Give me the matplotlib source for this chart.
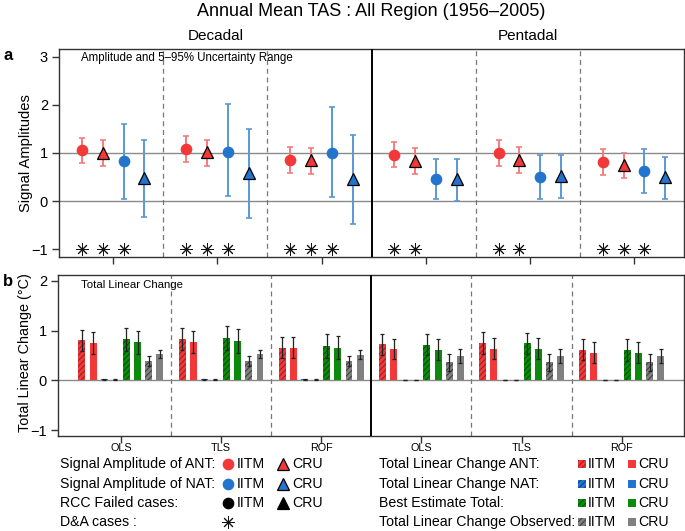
import matplotlib
matplotlib.use("Agg")
import matplotlib.pyplot as plt
from matplotlib.patches import Rectangle
import numpy as np

plt.rcParams.update({"font.family": ["Liberation Sans", "DejaVu Sans"],
                     "hatch.linewidth": 0.7})

# ---------- data (groups: Decadal OLS/TLS/ROF, Pentadal OLS/TLS/ROF) ----------
periods = ["Decadal", "Pentadal"]
methods = ["OLS", "TLS", "ROF"]

# panel a: signal amplitudes with 5-95% range
amp_ant_iitm    = [1.06, 1.08, 0.86, 0.96, 0.99, 0.81]
amp_ant_iitm_lo = [0.80, 0.81, 0.58, 0.70, 0.73, 0.54]
amp_ant_iitm_hi = [1.32, 1.35, 1.13, 1.22, 1.26, 1.09]
amp_ant_cru     = [1.01, 1.03, 0.86, 0.84, 0.86, 0.75]
amp_ant_cru_lo  = [0.73, 0.73, 0.57, 0.56, 0.58, 0.48]
amp_ant_cru_hi  = [1.28, 1.28, 1.11, 1.10, 1.12, 1.01]
amp_nat_iitm    = [0.83, 1.02, 0.99, 0.46, 0.50, 0.62]
amp_nat_iitm_lo = [0.04, 0.11, 0.08, 0.04, 0.05, 0.17]
amp_nat_iitm_hi = [1.61, 2.01, 1.96, 0.88, 0.95, 1.08]
amp_nat_cru     = [0.48, 0.59, 0.46, 0.46, 0.53, 0.50]
amp_nat_cru_lo  = [-0.32, -0.34, -0.47, 0.01, 0.07, 0.05]
amp_nat_cru_hi  = [1.27, 1.50, 1.37, 0.88, 0.95, 0.92]
# D&A cases (asterisks) for ANT-IITM, ANT-CRU, NAT-IITM
da_ant_iitm = [True, True, True, True, True, True]
da_ant_cru  = [True, True, True, True, True, True]
da_nat_iitm = [True, True, True, False, False, True]

# panel b: total linear change (degC) and error half-widths
tlc_ant_iitm  = [0.81, 0.83, 0.66, 0.73, 0.75, 0.62]
tlc_ant_iitm_e = [0.21, 0.22, 0.22, 0.21, 0.22, 0.21]
tlc_ant_cru   = [0.76, 0.77, 0.66, 0.63, 0.64, 0.56]
tlc_ant_cru_e = [0.22, 0.22, 0.21, 0.21, 0.22, 0.22]
tlc_nat_iitm  = [0.02, 0.02, 0.02, 0.00, 0.00, 0.00]
tlc_nat_iitm_e = [0.015, 0.015, 0.015, 0.003, 0.003, 0.003]
tlc_nat_cru   = [0.01, 0.01, 0.01, 0.00, 0.00, 0.00]
tlc_nat_cru_e = [0.01, 0.01, 0.01, 0.003, 0.003, 0.003]
best_iitm     = [0.83, 0.85, 0.69, 0.72, 0.75, 0.61]
best_iitm_e   = [0.23, 0.24, 0.24, 0.21, 0.21, 0.22]
best_cru      = [0.77, 0.79, 0.66, 0.62, 0.64, 0.56]
best_cru_e    = [0.23, 0.24, 0.24, 0.21, 0.22, 0.22]
obs_iitm      = [0.39, 0.39, 0.39, 0.36, 0.36, 0.36]
obs_iitm_e    = [0.10, 0.10, 0.10, 0.18, 0.18, 0.18]
obs_cru       = [0.53, 0.53, 0.52, 0.49, 0.49, 0.49]
obs_cru_e     = [0.08, 0.08, 0.085, 0.15, 0.15, 0.15]

# ---------- style ----------
RED, BLUE, GREEN, GRAY = "#f23838", "#2274cc", "#0c8a0c", "#808080"
RED_H, BLUE_H, GREEN_H, GRAY_H = "#9a1c1c", "#0e3f7e", "#034d03", "#3a3a3a"
RED_E, BLUE_E = "#f27d7d", "#5a98d6"
FRAME = "#333333"
W, H = 685, 531

def box(l, t, r, b):
    return [l / W, 1 - b / H, (r - l) / W, (b - t) / H]

fig = plt.figure(figsize=(W / 100, H / 100), dpi=100)

# ---------- panel a ----------
axa = fig.add_axes(box(59, 49, 684, 257))
grp = np.arange(6)
offs = [0.22, 0.42, 0.62, 0.82]
series_a = [
    (amp_ant_iitm, amp_ant_iitm_lo, amp_ant_iitm_hi, RED, RED_E, "o"),
    (amp_ant_cru, amp_ant_cru_lo, amp_ant_cru_hi, RED, RED_E, "^"),
    (amp_nat_iitm, amp_nat_iitm_lo, amp_nat_iitm_hi, BLUE, BLUE_E, "o"),
    (amp_nat_cru, amp_nat_cru_lo, amp_nat_cru_hi, BLUE, BLUE_E, "^"),
]
axa.axhline(0, color="#8a8a8a", lw=1, zorder=1)
axa.axhline(1, color="#8a8a8a", lw=1, zorder=1)
for k, (v, lo, hi, c, ec, m) in enumerate(series_a):
    x = grp + offs[k]
    v, lo, hi = np.array(v), np.array(lo), np.array(hi)
    axa.errorbar(x, v, yerr=[v - lo, hi - v], fmt="none", ecolor=ec,
                 elinewidth=1.4, capsize=2.3, capthick=1.2, zorder=2)
    if m == "o":
        axa.plot(x, v, ls="none", marker="o", ms=7.4, mfc=c, mec=c, zorder=3)
    else:
        axa.plot(x, v, ls="none", marker="^", ms=8.2, mfc=c, mec="black",
                 mew=0.9, zorder=3)
for k, flags in enumerate([da_ant_iitm, da_ant_cru, da_nat_iitm]):
    x = (grp + offs[k])[np.array(flags)]
    axa.plot(x, np.full(len(x), -1.0), ls="none", marker=(8, 2, 0), ms=9,
             mec="#111111", mew=0.7, zorder=3)
for xv in [1, 2, 4, 5]:
    axa.axvline(xv, color="#777777", lw=0.9, ls=(0, (4, 3)), zorder=1)
axa.axvline(3, color="black", lw=1.4, zorder=4)
axa.set_xlim(0, 6)
axa.set_ylim(-1.16, 3.16)
axa.set_yticks([-1, 0, 1, 2, 3])
axa.set_yticklabels(["\u22121", "0", "1", "2", "3"])
axa.set_xticks(grp + 0.52)
axa.set_xticklabels([])
axa.tick_params(direction="out", length=5, width=1, color=FRAME,
                labelsize=10.5, pad=3)
axa.set_ylabel("Signal Amplitudes", fontsize=10.6)
axa.yaxis.set_label_coords((33 - 59) / 625, 0.5)
axa.text(0.035, 0.985, "Amplitude and 5\u201395% Uncertainty Range",
         transform=axa.transAxes, ha="left", va="top", fontsize=8.3)
for s in axa.spines.values():
    s.set_color(FRAME); s.set_linewidth(1)

# ---------- panel b ----------
axb = fig.add_axes(box(58, 275, 684, 436))
series_b = [
    (tlc_ant_iitm, tlc_ant_iitm_e, RED, RED_H, True),
    (tlc_ant_cru, tlc_ant_cru_e, RED, RED, False),
    (tlc_nat_iitm, tlc_nat_iitm_e, BLUE, BLUE_H, True),
    (tlc_nat_cru, tlc_nat_cru_e, BLUE, BLUE, False),
    (best_iitm, best_iitm_e, GREEN, GREEN_H, True),
    (best_cru, best_cru_e, GREEN, GREEN, False),
    (obs_iitm, obs_iitm_e, GRAY, GRAY_H, True),
    (obs_cru, obs_cru_e, GRAY, GRAY, False),
]
axb.axhline(0, color="#8a8a8a", lw=1, zorder=1)
for k, (v, e, c, hc, hatched) in enumerate(series_b):
    x = grp * 9 + k
    axb.bar(x, v, width=0.62, color=c, edgecolor=hc, linewidth=0,
            hatch="//////" if hatched else None, zorder=2)
    axb.errorbar(x, v, yerr=e, fmt="none", ecolor="#222222", elinewidth=0.9,
                 capsize=1.5, capthick=0.9, zorder=3)
for xv in [8, 17, 35, 44]:
    axb.axvline(xv, color="#777777", lw=0.9, ls=(0, (4, 3)), zorder=1)
axb.axvline(26, color="black", lw=1.4, zorder=4)
axb.set_xlim(-2.15, 54.1)
axb.set_ylim(-1.12, 2.12)
axb.set_yticks([-1, 0, 1, 2])
axb.set_yticklabels(["\u22121", "0", "1", "2"])
axb.set_xticks(grp * 9 + 3.5)
axb.set_xticklabels(methods * 2, fontsize=7.8)
axb.tick_params(axis="y", direction="out", length=5, width=1, color=FRAME,
                labelsize=10.5, pad=3)
axb.tick_params(axis="x", direction="out", length=5, width=1, color=FRAME,
                pad=0)
axb.set_ylabel("Total Linear Change (\u00b0C)", fontsize=10.4)
axb.yaxis.set_label_coords((32 - 58) / 626, 0.52)
axb.text(0.036, 0.97, "Total Linear Change", transform=axb.transAxes,
         ha="left", va="top", fontsize=8.2)
for s in axb.spines.values():
    s.set_color(FRAME); s.set_linewidth(1)

# ---------- titles and panel letters ----------
fig.text(0.5 * (59 + 684) / W, 1 - 12 / H,
         "Annual Mean TAS : All Region (1956\u20132005)",
         ha="center", va="center", fontsize=13)
fig.text(0.5 * (59 + 372) / W, 1 - 36 / H, periods[0], ha="center",
         va="center", fontsize=11)
fig.text(0.5 * (372 + 684) / W, 1 - 36 / H, periods[1], ha="center",
         va="center", fontsize=11)
fig.text(3 / W, 1 - 56 / H, "a", fontweight="bold", fontsize=12, va="center")
fig.text(3 / W, 1 - 281 / H, "b", fontweight="bold", fontsize=12, va="center")

# ---------- legend (drawn in pixel space) ----------
lg = fig.add_axes([0, 0, 1, 1])
lg.set_xlim(0, W); lg.set_ylim(H, 0); lg.axis("off")
rows = [464, 484, 503, 522]
fs = 10.2
left_lab = ["Signal Amplitude of ANT:", "Signal Amplitude of NAT:",
            "RCC Failed cases:", "D&A cases :"]
left_col = [RED, BLUE, "black"]
for i, y in enumerate(rows):
    lg.text(60, y, left_lab[i], fontsize=fs, va="center")
for i, c in enumerate(left_col):
    y = rows[i]
    lg.plot([228], [y], marker="o", ms=7.4, mfc=c, mec=c, ls="none")
    lg.text(237, y, "IITM", fontsize=fs, va="center")
    lg.plot([283], [y], marker="^", ms=8.2, mfc=c, mec="black", mew=0.9,
            ls="none")
    lg.text(292, y, "CRU", fontsize=fs, va="center")
lg.plot([228], [rows[3]], marker=(8, 2, 0), ms=9, mec="#111111", mew=0.7,
        ls="none")

right_lab = ["Total Linear Change ANT:", "Total Linear Change NAT:",
             "Best Estimate Total:", "Total Linear Change Observed:"]
right_col = [(RED, RED_H), (BLUE, BLUE_H), (GREEN, GREEN_H), (GRAY, GRAY_H)]
for i, y in enumerate(rows):
    lg.text(379, y, right_lab[i], fontsize=fs, va="center")
    c, hc = right_col[i]
    lg.add_patch(Rectangle((578, y - 4), 8, 8, facecolor=c, edgecolor=hc,
                           lw=0, hatch="//////"))
    lg.text(588, y, "IITM", fontsize=fs, va="center")
    lg.add_patch(Rectangle((628, y - 4), 8, 8, facecolor=c, edgecolor=c, lw=0))
    lg.text(638, y, "CRU", fontsize=fs, va="center")

fig.savefig("out.png", dpi=100)
